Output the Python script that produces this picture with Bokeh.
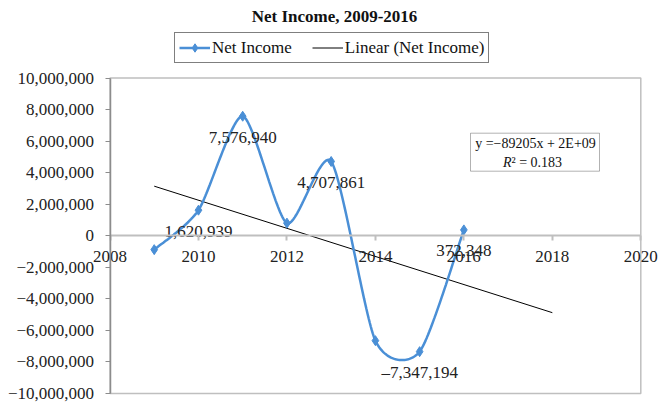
import numpy as np
from bokeh.plotting import figure
from bokeh.models import (FixedTicker, Legend, LegendItem, BoxAnnotation, Label,
                          ColumnDataSource, Range1d)
from bokeh.core.properties import value
from bokeh.embed import file_html
from bokeh.resources import INLINE

# ---------------- data ----------------
title_text = "Net Income, 2009-2016"
series_name = "Net Income"
trend_name = "Linear (Net Income)"
years = [2009, 2010, 2011, 2012, 2013, 2014, 2015, 2016]
net_income = [-880000, 1620939, 7576940, 800000, 4707861, -6650000, -7347194, 372348]
data_labels = ["", "1,620,939", "7,576,940", "", "4,707,861", "", "–7,347,194", "372,348"]
x_ticks = [2008, 2010, 2012, 2014, 2016, 2018, 2020]
y_ticks = [-10000000, -8000000, -6000000, -4000000, -2000000, 0,
           2000000, 4000000, 6000000, 8000000, 10000000]
y_tick_labels = ["−10,000,000", "−8,000,000", "−6,000,000", "−4,000,000", "−2,000,000", "0",
                 "2,000,000", "4,000,000", "6,000,000", "8,000,000", "10,000,000"]
trend_equation = "y =−89205x + 2E+09"
r_symbol = "R"
r_squared_rest = "² = 0.183"
trend_forward = 2
x_axis_bounds = (2008, 2020)
y_axis_bounds = (-10000000, 10000000)

SERIF = "Liberation Serif"
BLUE = "#4A8FD6"

# ---------------- layout geometry (canvas pixels) ----------------
W, H = 658, 404
PLOT_L, PLOT_R = 109.5, 640.3      # where the x bounds fall on the canvas
PLOT_T, PLOT_B = 77.5, 393.0       # where the y bounds fall on the canvas
ppx = (PLOT_R - PLOT_L) / (x_axis_bounds[1] - x_axis_bounds[0])
ppy = (PLOT_B - PLOT_T) / (y_axis_bounds[1] - y_axis_bounds[0])
x_start = x_axis_bounds[0] - PLOT_L / ppx
x_end = x_axis_bounds[1] + (W - PLOT_R) / ppx
y_end = y_axis_bounds[1] + PLOT_T / ppy
y_start = y_axis_bounds[0] - (H - PLOT_B) / ppy

def fx(px):  # canvas pixel -> data x
    return x_start + px / ppx

def fy(py):  # canvas pixel -> data y
    return y_end - py / ppy

# ---------------- derived ----------------
def smooth_curve(xs, ys, k=0.12, n=40):
    P = np.column_stack([np.asarray(xs, float), np.asarray(ys, float)])
    m = len(P)
    out = []
    t = np.linspace(0, 1, n)[:, None]
    for i in range(m - 1):
        prv = i - 1 if i > 0 else i
        nxt = i + 2 if i + 2 < m else i + 1
        p0, p3 = P[i], P[i + 1]
        c1 = p0 + k * (P[i + 1] - P[prv])
        c2 = p3 - k * (P[nxt] - P[i])
        seg = ((1 - t) ** 3) * p0 + 3 * ((1 - t) ** 2) * t * c1 + 3 * (1 - t) * t ** 2 * c2 + t ** 3 * p3
        out.append(seg if i == 0 else seg[1:])
    s = np.vstack(out)
    return s[:, 0], s[:, 1]

sx, sy = smooth_curve(years, net_income)
slope, intercept = np.polyfit(years, net_income, 1)
trend_x = [years[0], years[-1] + trend_forward]
trend_y = [slope * x + intercept for x in trend_x]

# ---------------- figure ----------------
p = figure(width=W, height=H, output_backend="svg", toolbar_location=None,
           x_range=Range1d(x_start, x_end), y_range=Range1d(y_start, y_end),
           min_border=0, min_border_left=0, min_border_right=0,
           min_border_top=0, min_border_bottom=0)
p.background_fill_color = "white"
p.border_fill_color = "white"
p.outline_line_color = None
p.grid.visible = False

# plot-area box
p.add_layout(BoxAnnotation(left=x_axis_bounds[0], right=x_axis_bounds[1],
                           bottom=y_axis_bounds[0], top=y_axis_bounds[1],
                           fill_alpha=0, line_color="#2b2b2b", line_width=1.5, level="underlay"))

# axes
xa = p.xaxis[0]
xa.ticker = FixedTicker(ticks=x_ticks)
xa.fixed_location = 0
xa.bounds = x_axis_bounds
xa.axis_line_color = "#BFBFBF"
xa.axis_line_width = 2
xa.major_tick_line_color = "#BFBFBF"
xa.major_tick_line_width = 2
xa.major_tick_in = 0
xa.major_tick_out = 5
xa.minor_tick_line_color = None
xa.major_label_standoff = 10
xa.major_label_text_font = SERIF
xa.major_label_text_font_size = "17px"
xa.major_label_text_color = "#222222"

ya = p.yaxis[0]
ya.ticker = FixedTicker(ticks=y_ticks)
ya.fixed_location = x_axis_bounds[0]
ya.bounds = y_axis_bounds
ya.major_label_overrides = {t: l for t, l in zip(y_ticks, y_tick_labels)}
ya.axis_line_color = "#8C8C8C"
ya.axis_line_width = 1.5
ya.major_tick_line_color = "#8C8C8C"
ya.major_tick_in = 0
ya.major_tick_out = 5
ya.minor_tick_line_color = None
ya.major_label_standoff = 11
ya.major_label_text_font = SERIF
ya.major_label_text_font_size = "17px"
ya.major_label_text_color = "#222222"

# glyphs
trend_r = p.line(trend_x, trend_y, line_color="black", line_width=1)
line_r = p.line(sx, sy, line_color=BLUE, line_width=2.5)
mark_r = p.scatter(years, net_income, marker="diamond", size=10, fill_color=BLUE, line_color=BLUE)

lab_src = ColumnDataSource(dict(x=years, y=net_income, t=data_labels))
p.text(x="x", y="y", text="t", source=lab_src, y_offset=21, text_align="center",
       text_baseline="middle", text_font=value(SERIF), text_font_size="17px", text_color="#222222")

# title
p.add_layout(Label(x=fx(334), y=fy(16), text=title_text, text_align="center", text_baseline="middle",
                   text_font=SERIF, text_font_size="17px", text_font_style="bold", text_color="#111111"))

# equation box (positions in canvas pixels)
p.add_layout(BoxAnnotation(left=fx(470), right=fx(599), top=fy(132.7), bottom=fy(170.7),
                           fill_color="white", fill_alpha=1, line_color="black", line_width=1))
p.add_layout(Label(x=fx(535), y=fy(143), text=trend_equation, text_align="center", text_baseline="middle",
                   text_font=SERIF, text_font_size="14px", text_color="#111111"))
p.add_layout(Label(x=fx(511), y=fy(161.7), text=r_symbol, text_align="right", text_baseline="middle",
                   text_font=SERIF, text_font_size="14px", text_font_style="italic", text_color="#111111"))
p.add_layout(Label(x=fx(511), y=fy(161.7), text=r_squared_rest, text_align="left", text_baseline="middle",
                   text_font=SERIF, text_font_size="14px", text_color="#111111"))

# legend (location in canvas pixels from the bottom-left of the frame)
legend = Legend(items=[LegendItem(label=series_name, renderers=[line_r, mark_r]),
                       LegendItem(label=trend_name, renderers=[trend_r])],
                orientation="horizontal", location=(174, H - 32 - 31), margin=0, padding=4, spacing=20,
                glyph_width=31, glyph_height=21, label_height=21, label_standoff=2,
                label_text_font=SERIF, label_text_font_size="17px", label_text_color="#111111",
                border_line_color="black", border_line_width=1, background_fill_alpha=0)
p.add_layout(legend, "center")

open("out.html", "w").write(file_html(p, INLINE))
